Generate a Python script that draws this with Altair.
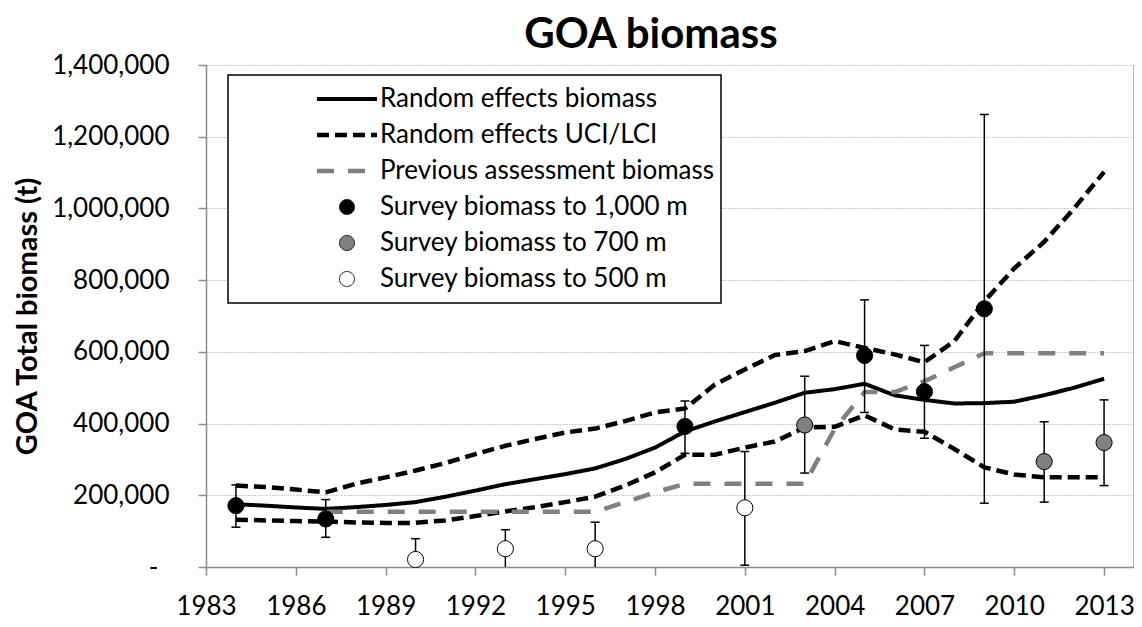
import altair as alt
import pandas as pd

# ---------------- data ----------------
years = list(range(1984, 2014))
re_biomass = [175000, 171000, 166000, 162000, 167000, 173000, 181000, 196000, 213000, 231000,
              245000, 259000, 275000, 301000, 333000, 378000, 406000, 432000, 458000, 486000,
              496000, 511000, 479000, 466000, 456000, 457000, 461000, 479000, 500000, 525000]
re_uci = [227000, 223000, 216000, 208000, 232000, 250000, 269000, 290000, 315000, 338000,
          357000, 375000, 386000, 407000, 431000, 442000, 509000, 551000, 591000, 602000,
          630000, 611000, 593000, 571000, 630000, 741000, 833000, 907000, 1000000, 1102000]
re_lci = [132000, 130000, 128000, 127000, 124000, 123000, 123000, 130000, 142000, 155000,
          167000, 181000, 196000, 227000, 264000, 313000, 313000, 333000, 350000, 389000,
          391000, 423000, 384000, 377000, 329000, 278000, 258000, 250000, 250000, 250000]

prev_years = list(range(1987, 2014))
prev_biomass = [154000, 154000, 154000, 154000, 154000, 154000, 154000, 154000, 154000, 154000,
                181000, 208000, 232000, 232000, 232000, 232000, 232000, 385000, 488000, 488000,
                518000, 557000, 596000, 596000, 596000, 596000, 596000]

s1000_years = [1984, 1987, 1999, 2005, 2007, 2009]
s1000_vals = [171000, 134000, 392000, 590000, 489000, 720000]
s1000_lo = [111000, 83000, 317000, 431000, 359000, 178000]
s1000_hi = [229000, 188000, 463000, 745000, 618000, 1262000]

s700_years = [2003, 2011, 2013]
s700_vals = [396000, 294000, 347000]
s700_lo = [262000, 181000, 227000]
s700_hi = [532000, 405000, 466000]

s500_years = [1990, 1993, 1996, 2001]
s500_vals = [21000, 51000, 51000, 165000]
s500_lo = [0, 0, 0, 5000]
s500_hi = [79000, 104000, 125000, 322000]

SERIES = ["Random effects biomass", "Random effects UCI/LCI", "Previous assessment biomass",
          "Survey biomass to 1,000 m", "Survey biomass to 700 m", "Survey biomass to 500 m"]
x_ticks = list(range(1983, 2014, 3))
y_ticks = list(range(0, 1400001, 200000))

# ---------------- tables ----------------
rows = []
for y, v in zip(years, re_biomass):
    rows.append(dict(year=y, value=v, series=SERIES[0], line="re"))
for y, v in zip(years, re_uci):
    rows.append(dict(year=y, value=v, series=SERIES[1], line="uci"))
for y, v in zip(years, re_lci):
    rows.append(dict(year=y, value=v, series=SERIES[1], line="lci"))
for y, v in zip(prev_years, prev_biomass):
    rows.append(dict(year=y, value=v, series=SERIES[2], line="prev"))
lines_df = pd.DataFrame(rows)

prow = []
for name, ys, vs, los, his in [(SERIES[3], s1000_years, s1000_vals, s1000_lo, s1000_hi),
                               (SERIES[4], s700_years, s700_vals, s700_lo, s700_hi),
                               (SERIES[5], s500_years, s500_vals, s500_lo, s500_hi)]:
    for y, v, lo, hi in zip(ys, vs, los, his):
        prow.append(dict(year=y, value=v, lo=lo, hi=hi, series=name))
pts_df = pd.DataFrame(prow)

caps = []
for r in prow:
    caps.append(dict(year=r["year"], cap=r["hi"]))
    if r["lo"] > 0:
        caps.append(dict(year=r["year"], cap=r["lo"]))
caps_df = pd.DataFrame(caps)

# legend line symbol; the trailing move-to draws nothing but widens the legend box
LINE_PATH = "M-4,0L4,0M54.3,0"
stroke_scale = alt.Scale(domain=SERIES, range=["black", "black", "#808080", "black", "black", "black"])
dash_scale = alt.Scale(domain=SERIES, range=[[1, 0], [12, 6], [17, 14], [1, 0], [1, 0], [1, 0]])
width_scale = alt.Scale(type="ordinal", domain=SERIES, range=[4, 4.5, 4.5, 1, 1, 1])
fill_scale = alt.Scale(domain=SERIES, range=["transparent", "transparent", "transparent",
                                             "black", "#808080", "white"])
shape_scale = alt.Scale(domain=SERIES, range=[LINE_PATH, LINE_PATH, LINE_PATH,
                                              "circle", "circle", "circle"])

LEG = alt.Legend(title=None)

x_enc = alt.X("year:Q",
              scale=alt.Scale(domain=[1983, 2014], nice=False, zero=False),
              axis=alt.Axis(values=x_ticks, format="d", grid=False, title=None,
                            domainColor="#8c8c8c", domainWidth=1.5, tickColor="#8c8c8c",
                            tickWidth=1.5, tickSize=8, labelFontSize=26, labelFont="Lato",
                            labelColor="black", labelPadding=18, labelFlush=False))
y_enc = alt.Y("value:Q",
              scale=alt.Scale(domain=[0, 1400000], nice=False),
              axis=alt.Axis(values=y_ticks, grid=True, gridDash=[1, 2], gridColor="#9a9a9a",
                            gridWidth=1, domainColor="#8c8c8c", domainWidth=1.5,
                            tickColor="#8c8c8c", tickWidth=1.5, tickSize=8,
                            labelExpr="datum.value == 0 ? '-' : format(datum.value, ',')",
                            labelFontSize=26, labelFont="Lato", labelColor="black",
                            labelPadding={"condition": {"test": "datum.value == 0", "value": 40},
                                          "value": 29},
                            title="GOA Total biomass (t)",
                            titleFont="Lato", titleFontSize=29, titleFontWeight="bold",
                            titleColor="black", titleX=-179, titleY=251, titleAngle=-90,
                            titleAlign="center", titleBaseline="middle"))

base_lines = alt.Chart(lines_df).mark_line(strokeCap="butt", strokeJoin="round").encode(
    x=x_enc, y=y_enc,
    stroke=alt.Stroke("series:N", scale=stroke_scale, legend=LEG),
    strokeDash=alt.StrokeDash("series:N", scale=dash_scale, legend=LEG),
    strokeWidth=alt.StrokeWidth("series:N", scale=width_scale, legend=LEG),
    detail="line:N",
)

err = alt.Chart(pts_df).mark_rule(color="black", strokeWidth=1.5).encode(
    x="year:Q", y="lo:Q", y2="hi:Q")

cap_marks = alt.Chart(caps_df).mark_tick(orient="horizontal", color="black", size=9,
                                         thickness=1.5, opacity=1).encode(
    x="year:Q", y="cap:Q")

points = alt.Chart(pts_df).mark_point(filled=True, size=260, opacity=1).encode(
    x="year:Q", y="value:Q",
    fill=alt.Fill("series:N", scale=fill_scale, legend=LEG),
    stroke=alt.Stroke("series:N", scale=stroke_scale, legend=LEG),
    strokeWidth=alt.StrokeWidth("series:N", scale=width_scale, legend=LEG),
    shape=alt.Shape("series:N", scale=shape_scale, legend=LEG),
)

border = alt.Chart(pd.DataFrame({"edge": [2014]})).mark_rule(color="#a0a0a0", strokeWidth=1.5).encode(
    x=alt.X("edge:Q"), y=alt.datum(0), y2=alt.datum(1400000))

chart = alt.layer(base_lines, err, cap_marks, points, border).properties(
    width=928, height=502,
    title=alt.Title("GOA biomass", font="Lato", fontSize=42, fontWeight="bold", color="black",
                    anchor="middle", frame="group", offset=-5, dx=-19),
    autosize=alt.AutoSizeParams(type="none"),
    padding={"left": 198, "top": 57, "right": 0, "bottom": 52},
).configure_view(stroke=None).configure_legend(
    orient="none", legendX=22, legendY=10, padding=6, strokeColor="black", strokeWidth=1.5,
    fillColor="white", cornerRadius=0, labelFont="Lato", labelFontSize=26, labelColor="black",
    labelLimit=900, symbolSize=225, clipHeight=36, rowPadding=0, symbolOffset=100,
    labelOffset=20,
)

chart.save("out.html", embed_options={"renderer": "svg", "actions": False})
